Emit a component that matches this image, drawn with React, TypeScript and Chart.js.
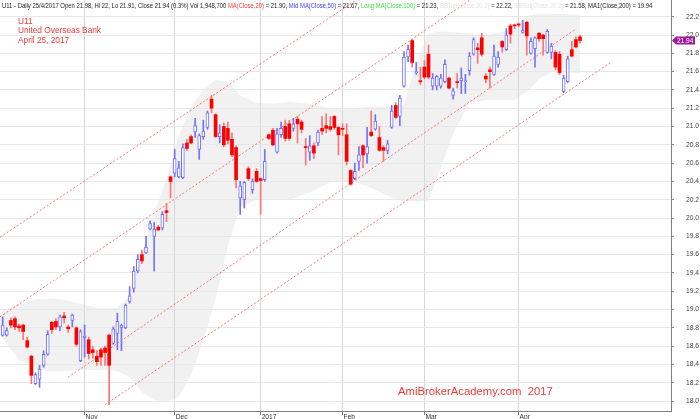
import React, { useEffect, useRef } from "react";
import { Chart, registerables } from "chart.js";

Chart.register(...registerables);

// ---------- DATA ----------
const opens = [
  18.72, 18.72, 18.88, 18.90, 18.82, 18.83, 18.66, 18.49, 18.19, 18.24,
  18.39, 18.51, 18.86, 18.87, 18.81, 18.93, 18.81, 18.88, 18.80, 18.44,
  18.69, 18.67, 18.56, 18.49, 18.56, 18.58, 18.72, 18.63, 18.74, 18.80,
  18.80, 19.09, 19.23, 19.42, 19.60, 19.62, 19.88, 19.80, 19.90, 19.89,
  20.08, 20.45, 20.49, 20.45, 20.44, 20.82, 20.89, 20.94, 20.75, 20.89,
  20.99, 21.30, 21.13, 20.89, 21.00, 20.98, 20.86, 20.77, 20.22, 20.20,
  20.54, 20.31, 20.51, 20.43, 20.42, 20.91, 20.96, 20.72, 20.91, 21.00,
  21.03, 20.98, 21.08, 21.05, 20.78, 20.72, 20.79, 20.82, 20.98, 21.01,
  21.00, 21.11, 20.99, 20.98, 20.91, 20.52, 20.43, 20.62, 20.79, 20.70,
  20.94, 20.97, 20.88, 20.77, 20.74, 20.99, 21.23, 21.11, 21.44, 21.76,
  21.94, 21.59, 21.50, 21.65, 21.79, 21.44, 21.44, 21.44, 21.49, 21.53,
  21.34, 21.49, 21.50, 21.49, 21.61, 21.79, 21.86, 21.97, 21.55, 21.62,
  21.57, 21.68, 21.93, 21.84, 22.10, 22.11, 22.12, 22.03, 22.14, 21.80,
  21.85, 22.02, 22.00, 21.81, 21.81, 21.81, 21.79, 21.38, 21.49, 21.84,
  21.95, 21.98,
];
const highs = [
  18.92, 18.80, 18.91, 18.92, 18.84, 18.84, 18.70, 18.50, 18.31, 18.39,
  18.55, 18.77, 18.87, 18.90, 18.94, 18.97, 18.83, 18.95, 18.81, 18.78,
  18.83, 18.70, 18.60, 18.55, 18.58, 18.60, 18.73, 18.81, 18.96, 18.84,
  19.06, 19.25, 19.47, 19.60, 19.65, 19.80, 19.97, 19.95, 19.92, 20.07,
  20.16, 20.46, 20.75, 20.62, 20.81, 20.86, 20.91, 21.09, 20.92, 21.07,
  21.17, 21.34, 21.14, 21.02, 21.04, 21.05, 20.93, 20.79, 20.40, 20.40,
  20.56, 20.43, 20.54, 20.44, 20.75, 20.92, 20.98, 20.98, 21.05, 21.07,
  21.07, 21.09, 21.11, 21.07, 20.87, 20.90, 20.82, 20.96, 21.11, 21.14,
  21.11, 21.12, 21.00, 21.03, 21.03, 20.53, 20.60, 20.78, 20.80, 20.99,
  21.17, 21.13, 21.00, 20.79, 20.85, 21.23, 21.26, 21.34, 21.82, 21.89,
  21.95, 21.70, 21.65, 21.72, 21.89, 21.58, 21.56, 21.57, 21.73, 21.54,
  21.42, 21.58, 21.64, 21.57, 21.81, 21.97, 21.91, 22.02, 21.58, 21.65,
  21.89, 21.82, 21.94, 22.07, 22.12, 22.12, 22.13, 22.16, 22.15, 21.97,
  21.98, 22.03, 22.01, 22.06, 21.91, 21.83, 21.82, 21.56, 21.77, 21.93,
  21.98, 22.00,
];
const lows = [
  18.71, 18.71, 18.80, 18.78, 18.76, 18.67, 18.58, 18.19, 18.18, 18.15,
  18.37, 18.50, 18.74, 18.78, 18.77, 18.85, 18.75, 18.81, 18.60, 18.43,
  18.48, 18.46, 18.47, 18.39, 18.39, 18.39, 17.96, 18.62, 18.56, 18.55,
  18.79, 19.07, 19.19, 19.40, 19.50, 19.61, 19.87, 19.42, 19.86, 19.87,
  19.96, 20.22, 20.45, 20.44, 20.43, 20.74, 20.81, 20.88, 20.64, 20.86,
  20.97, 21.15, 20.88, 20.82, 20.78, 20.81, 20.67, 20.33, 20.04, 20.11,
  20.41, 20.27, 20.39, 20.04, 20.40, 20.86, 20.79, 20.71, 20.88, 20.84,
  20.85, 20.95, 20.82, 20.93, 20.58, 20.63, 20.65, 20.79, 20.91, 20.93,
  20.95, 20.97, 20.69, 20.90, 20.58, 20.36, 20.42, 20.52, 20.55, 20.60,
  20.89, 20.96, 20.73, 20.62, 20.70, 20.98, 21.09, 21.01, 21.43, 21.71,
  21.65, 21.57, 21.46, 21.52, 21.52, 21.40, 21.40, 21.42, 21.48, 21.41,
  21.30, 21.42, 21.36, 21.36, 21.56, 21.78, 21.69, 21.77, 21.48, 21.42,
  21.56, 21.65, 21.81, 21.83, 21.91, 22.07, 22.09, 22.02, 21.78, 21.79,
  21.65, 21.93, 21.78, 21.80, 21.74, 21.62, 21.57, 21.37, 21.48, 21.76,
  21.86, 21.91,
];
const closes = [
  18.83, 18.77, 18.83, 18.81, 18.80, 18.76, 18.59, 18.28, 18.29, 18.35,
  18.51, 18.73, 18.78, 18.81, 18.92, 18.91, 18.79, 18.94, 18.62, 18.76,
  18.71, 18.52, 18.53, 18.43, 18.48, 18.53, 18.39, 18.79, 18.87, 18.83,
  19.05, 19.15, 19.42, 19.55, 19.53, 19.68, 19.94, 19.88, 19.87, 20.04,
  20.06, 20.40, 20.65, 20.55, 20.77, 20.76, 20.82, 21.01, 20.90, 20.95,
  21.15, 21.20, 20.89, 20.93, 20.80, 20.85, 20.69, 20.42, 20.35, 20.39,
  20.43, 20.40, 20.40, 20.41, 20.62, 20.87, 20.80, 20.92, 20.98, 20.87,
  20.87, 21.03, 21.03, 20.97, 20.77, 20.79, 20.71, 20.94, 20.95, 20.98,
  20.97, 20.99, 20.91, 20.97, 20.62, 20.37, 20.51, 20.69, 20.69, 20.78,
  20.90, 21.06, 20.74, 20.74, 20.81, 21.17, 21.10, 21.31, 21.76, 21.84,
  21.70, 21.60, 21.49, 21.54, 21.54, 21.53, 21.55, 21.53, 21.68, 21.42,
  21.39, 21.48, 21.53, 21.50, 21.77, 21.95, 21.84, 21.79, 21.52, 21.60,
  21.77, 21.76, 21.87, 22.00, 22.01, 22.10, 22.11, 22.05, 21.99, 21.93,
  21.97, 21.96, 21.96, 22.04, 21.88, 21.65, 21.59, 21.53, 21.74, 21.77,
  21.87, 21.94,
];

// Bollinger band outline (bar index -> price)
const bandIdx = [
  -0.66, 4, 8, 12, 16, 20, 24, 28, 31, 34, 37, 40, 43, 46, 49, 52, 55, 58, 62, 66,
  70, 75, 80, 85, 90, 95, 98, 101, 104, 107, 110, 114, 118, 122, 125, 128, 131, 134, 137, 141,
];
const bandUpper = [
  18.97, 19.06, 19.11, 19.12, 19.10, 19.05, 19.01, 19.02, 19.15, 19.62, 20.06, 20.42, 20.90, 21.22, 21.40, 21.51, 21.49, 21.34, 21.26, 21.25,
  21.27, 21.25, 21.20, 21.20, 21.22, 21.22, 21.24, 21.70, 22.02, 22.04, 22.03, 22.02, 22.00, 22.03, 22.08, 22.21, 22.23, 22.23, 22.23, 22.22,
];
const bandLower = [
  18.72, 18.45, 18.35, 18.32, 18.33, 18.34, 18.34, 18.33, 18.26, 18.10, 18.01, 17.99, 18.05, 18.28, 18.66, 19.12, 19.70, 20.12, 20.20, 20.20,
  20.20, 20.28, 20.39, 20.41, 20.33, 20.22, 20.19, 20.18, 20.19, 20.55, 20.92, 21.26, 21.29, 21.29, 21.29, 21.38, 21.52, 21.60, 21.60, 21.58,
];

// hand-drawn trend channel (two end points each)
const trendAIdx = [-0.66, 95];
const trendAVal = [19.79, 22.64];
const trendBIdx = [-0.66, 120];
const trendBVal = [18.92, 22.56];
const trendCIdx = [15.95, 139.8];
const trendCVal = [18.26, 22.06];
const trendDIdx = [25.0, 148.8];
const trendDVal = [17.96, 21.71];

// axes
const monthTickIdx = [20, 42, 63, 83, 103, 126];
const monthLabels = ["Nov", "Dec", "2017", "Feb", "Mar", "Apr"];
const yTicks = [
  18.0, 18.2, 18.4, 18.6, 18.8, 19.0, 19.2, 19.4, 19.6, 19.8, 20.0,
  20.2, 20.4, 20.6, 20.8, 21.0, 21.2, 21.4, 21.6, 21.8, 22.0, 22.2,
];

const headerSegments: [string, string][] = [
  ["U11 - Daily 25/4/2017 Open 21.98, Hi 22, Lo 21.91, Close 21.94 (0.3%) Vol 1,948,700 ", "#222222"],
  ["MA(Close,20)", "#ff3a3a"],
  [" = 21.90, ", "#222222"],
  ["Mid MA(Close,50)", "#3c3cff"],
  [" = 21.67, ", "#222222"],
  ["Long MA(Close,100)", "#3ddc3d"],
  [" = 21.23, ", "#222222"],
  ["BBTop(Close,20,2)", "#e2e2e2"],
  [" = 22.22, ", "#222222"],
  ["BBBot(Close,20,2)", "#e2e2e2"],
  [" = 21.58, MA1(Close,200) = 19.94", "#222222"],
];
const titleLines = ["U11", "United Overseas Bank", "April 25, 2017"];
const watermark = "AmiBrokerAcademy.com  2017";

// ---------- STYLE ----------
const FONT = "'Liberation Sans', Arial, Helvetica, sans-serif";
const UP = "#7272ff";
const DOWN = "#ff0000";
const DOWN_WICK = "#ff7474";
const TREND = "rgba(255,70,70,0.75)";

const X_MIN = -0.659;
const X_MAX = 163.22;
const Y_MIN = 17.891;
const Y_MAX = 22.383;

const isUp = (i: number) => closes[i] >= opens[i];

const badgePlugin = {
  id: "lastBadge",
  afterDraw(chart: any) {
    const { ctx, chartArea } = chart;
    const last = closes[closes.length - 1];
    const y = chart.scales.y.getPixelForValue(last);
    const x0 = chartArea.right + 1;
    ctx.save();
    ctx.fillStyle = "#9b1c9b";
    ctx.beginPath();
    ctx.moveTo(x0, y);
    ctx.lineTo(x0 + 4, y - 4);
    ctx.lineTo(x0 + 23, y - 4);
    ctx.lineTo(x0 + 23, y + 4);
    ctx.lineTo(x0 + 4, y + 4);
    ctx.closePath();
    ctx.fill();
    ctx.fillStyle = "#ffffff";
    ctx.font = `6.5px ${FONT}`;
    ctx.textBaseline = "middle";
    ctx.textAlign = "left";
    ctx.fillText(last.toFixed(2), x0 + 5, y + 0.5);
    ctx.restore();
  },
};

export default function App() {
  const canvasRef = useRef<HTMLCanvasElement>(null);
  const headerRef = useRef<HTMLDivElement>(null);

  useEffect(() => {
    document.body.style.margin = "0";
    const canvas = canvasRef.current as HTMLCanvasElement;
    const idx = closes.map((_, i) => i);
    const tickFont = { family: FONT, size: 6.7 };

    const trend = (xs: number[], ys: number[]) => ({
      type: "line" as const,
      data: xs.map((x, k) => ({ x, y: ys[k] })),
      borderColor: TREND,
      borderWidth: 1,
      borderDash: [2, 2],
      pointRadius: 0,
      fill: false,
    });

    const chart = new Chart(canvas, {
      type: "bar",
      data: {
        datasets: [
          {
            type: "bar",
            label: "body",
            data: idx.map((i) => ({ x: i, y: [opens[i], closes[i]] })) as any,
            grouped: false,
            maxBarThickness: 3,
            barPercentage: 1,
            categoryPercentage: 1,
            minBarLength: 1,
            borderSkipped: false,
            backgroundColor: (c: any) => (isUp(c.dataIndex) ? "#ffffff" : DOWN),
            borderColor: (c: any) => (isUp(c.dataIndex) ? UP : DOWN),
            borderWidth: (c: any) => (isUp(c.dataIndex) ? 1 : 0),
          } as any,
          {
            type: "bar",
            label: "wick",
            data: idx.map((i) => ({ x: i, y: [lows[i], highs[i]] })) as any,
            grouped: false,
            maxBarThickness: 1,
            barPercentage: 1,
            categoryPercentage: 1,
            borderWidth: 0,
            backgroundColor: (c: any) => (isUp(c.dataIndex) ? UP : DOWN_WICK),
          } as any,
          trend(trendAIdx, trendAVal) as any,
          trend(trendBIdx, trendBVal) as any,
          trend(trendCIdx, trendCVal) as any,
          trend(trendDIdx, trendDVal) as any,
          {
            type: "line",
            label: "bbTop",
            data: bandIdx.map((x, k) => ({ x, y: bandUpper[k] })),
            borderWidth: 0,
            borderColor: "rgba(0,0,0,0)",
            pointRadius: 0,
            tension: 0,
            fill: false,
          } as any,
          {
            type: "line",
            label: "bbBot",
            data: bandIdx.map((x, k) => ({ x, y: bandLower[k] })),
            borderWidth: 0,
            borderColor: "rgba(0,0,0,0)",
            pointRadius: 0,
            tension: 0,
            fill: "-1",
            backgroundColor: "#f1f1f1",
          } as any,
        ],
      },
      options: {
        responsive: false,
        animation: false,
        devicePixelRatio: 1,
        layout: { padding: 0 },
        plugins: {
          legend: { display: false },
          tooltip: { enabled: false },
          filler: { drawTime: "beforeDraw" } as any,
        },
        scales: {
          x: {
            type: "linear",
            min: X_MIN,
            max: X_MAX,
            offset: false,
            grid: { offset: false, color: "#d6d6d6", tickColor: "#777777", tickLength: 4 } as any,
            border: { color: "#808080" },
            ticks: {
              autoSkip: false,
              maxRotation: 0,
              minRotation: 0,
              align: "start",
              padding: -2,
              labelOffset: 1,
              color: "#333333",
              font: tickFont,
              callback: (_v: any, i: number) => monthLabels[i] ?? "",
            },
            afterBuildTicks: (s: any) => {
              s.ticks = monthTickIdx.map((v) => ({ value: v }));
            },
            afterFit: (s: any) => {
              s.height = 8;
              s.paddingLeft = 0;
              s.paddingRight = 0;
              s.paddingTop = 0;
              s.paddingBottom = 0;
            },
          } as any,
          y: {
            type: "linear",
            position: "right",
            min: Y_MIN,
            max: Y_MAX,
            beginAtZero: false,
            grid: { color: "#e7e7e7", tickColor: "#8a8a8a", tickLength: 3 } as any,
            border: { color: "#808080" },
            ticks: {
              padding: 12,
              color: "#444444",
              font: tickFont,
              callback: (v: any) => Number(v).toFixed(1),
            },
            afterBuildTicks: (s: any) => {
              s.ticks = yTicks.map((v) => ({ value: v }));
            },
            afterFit: (s: any) => {
              s.width = 29;
              s.paddingTop = 0;
              s.paddingBottom = 0;
              s.paddingLeft = 0;
              s.paddingRight = 0;
            },
          } as any,
        },
      },
      plugins: [badgePlugin],
    });

    const h = headerRef.current;
    if (h) {
      h.style.transform = "none";
      const w = h.scrollWidth;
      if (w > 0) h.style.transform = `scaleX(${650 / w})`;
    }

    return () => chart.destroy();
  }, []);

  return (
    <div
      style={{
        position: "relative",
        width: 700,
        height: 419,
        overflow: "hidden",
        background: "#ffffff",
        fontFamily: FONT,
      }}
    >
      <canvas
        ref={canvasRef}
        width={700}
        height={419}
        style={{ position: "absolute", left: 0, top: 0, width: 700, height: 419 }}
      />
      <div
        ref={headerRef}
        style={{
          position: "absolute",
          left: 2,
          top: 2,
          fontSize: 7,
          lineHeight: 1,
          whiteSpace: "nowrap",
          transformOrigin: "0 0",
          display: "inline-block",
        }}
      >
        {headerSegments.map(([t, c], k) => (
          <span key={k} style={{ color: c, whiteSpace: "pre" }}>
            {t}
          </span>
        ))}
      </div>
      {titleLines.map((t, k) => (
        <div
          key={k}
          style={{
            position: "absolute",
            left: 18,
            top: 17 + k * 9.4,
            fontSize: 8.3,
            lineHeight: 1,
            color: "#f03c3c",
            whiteSpace: "nowrap",
          }}
        >
          {t}
        </div>
      ))}
      <div
        style={{
          position: "absolute",
          left: 398,
          top: 386,
          fontSize: 11.3,
          lineHeight: 1,
          color: "#ee3a3a",
          whiteSpace: "pre",
        }}
      >
        {watermark}
      </div>
    </div>
  );
}
